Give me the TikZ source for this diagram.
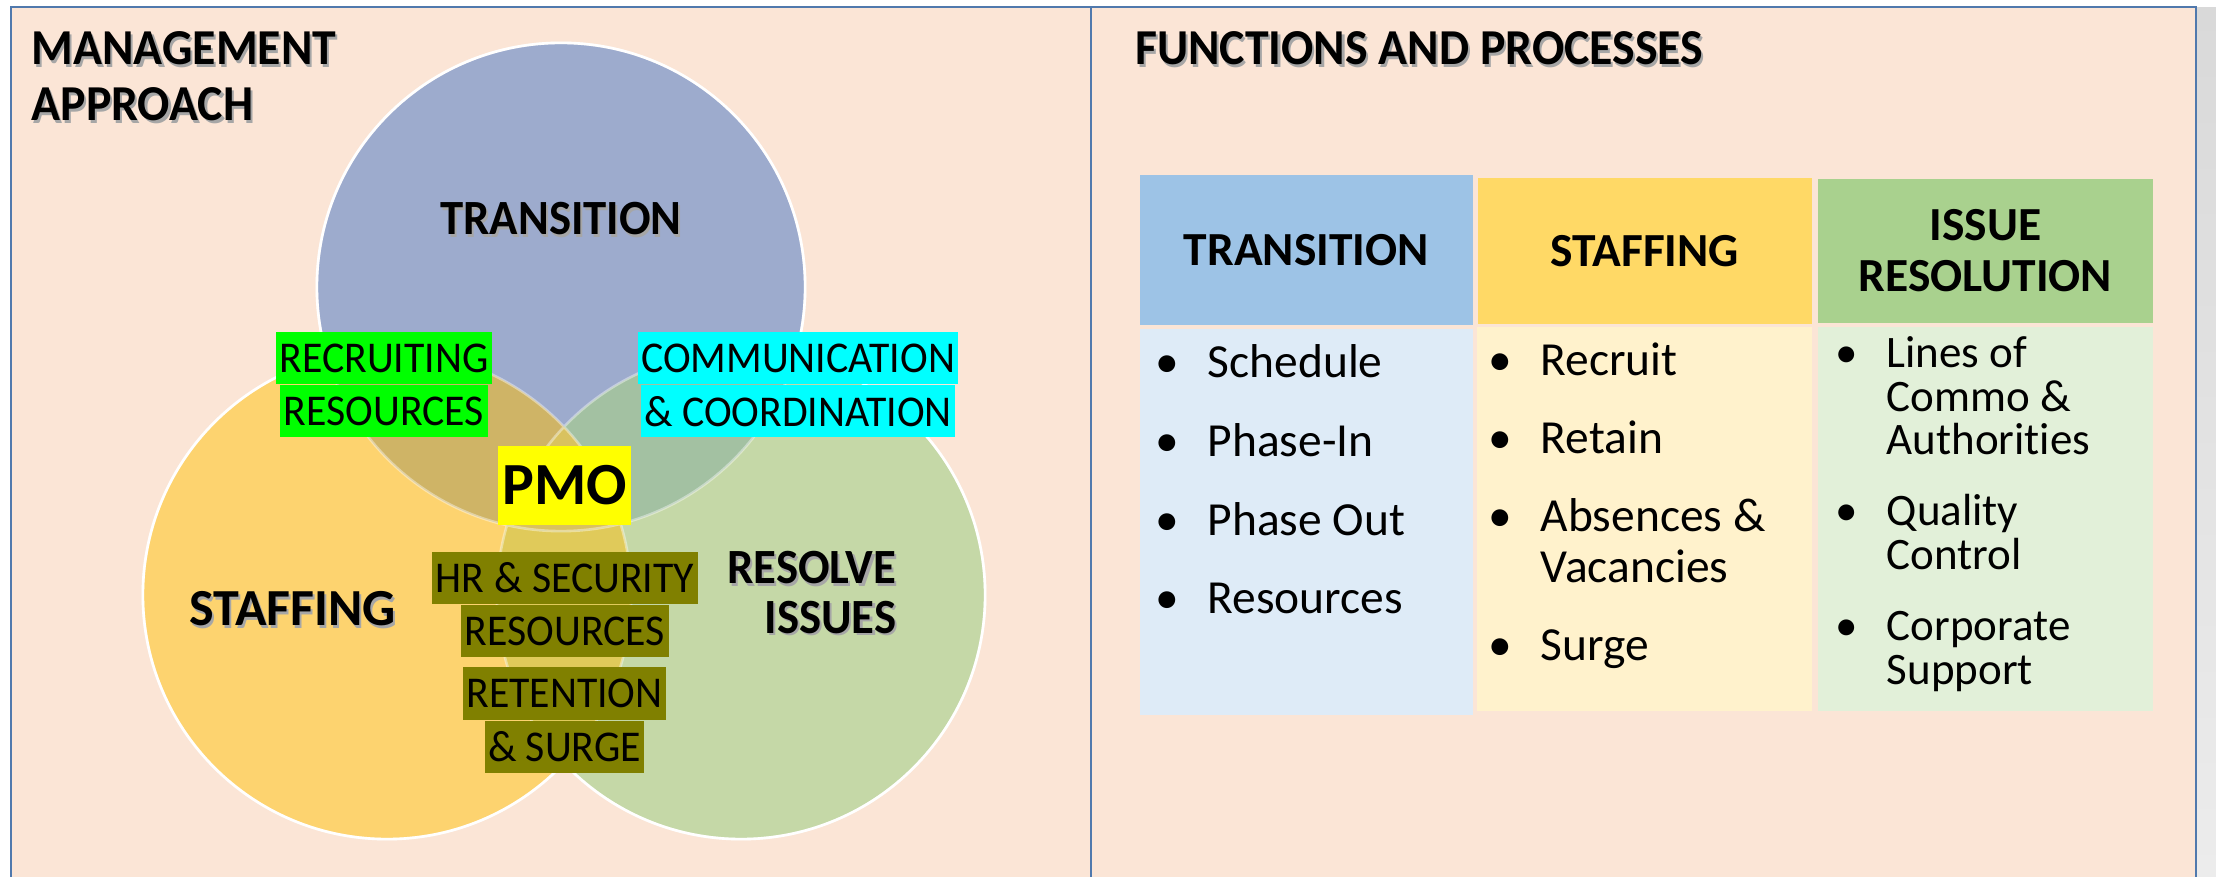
\documentclass[tikz,border=0pt]{standalone}
\usepackage{fontspec}
\setmainfont{Carlito}[Ligatures=NoCommon]
\newfontfamily\narrowfont{Carlito}[FakeStretch=0.95, Ligatures=NoCommon]
\usepackage{xcolor}
\usetikzlibrary{positioning}
\definecolor{panelc}{HTML}{FBE5D6}
\definecolor{framec}{HTML}{5079AD}
\definecolor{stripc}{HTML}{D9D9D9}
\definecolor{transc}{HTML}{9DABCD}
\definecolor{staffc}{HTML}{FDD36F}
\definecolor{resolvc}{HTML}{C5D8A7}
\definecolor{transstaffc}{HTML}{CFB466}
\definecolor{transresolvc}{HTML}{A3C1A2}
\definecolor{staffresolvc}{HTML}{E0CA5A}
\definecolor{centrec}{HTML}{D9C25F}
\definecolor{recruitc}{HTML}{00FF00}
\definecolor{commc}{HTML}{00FFFF}
\definecolor{pmoc}{HTML}{FFFF00}
\definecolor{hrc}{HTML}{808000}
\definecolor{transhead}{HTML}{9DC3E6}
\definecolor{transbody}{HTML}{DEEBF7}
\definecolor{staffhead}{HTML}{FFD966}
\definecolor{staffbody}{HTML}{FFF2CC}
\definecolor{issuehead}{HTML}{A9D18E}
\definecolor{issuebody}{HTML}{E2F0D9}
\newcommand\shadowed[1]{\leavevmode\rlap{\kern0.6pt\raisebox{-0.8pt}{\color{black!35}#1}}#1}
\newcommand\bul{\llap{\textbullet\hspace{0.29cm}}}
\tikzset{
  panel/.style={draw=framec, fill=panelc, line width=0.6pt},
  rim/.style={draw=white, line width=0.75pt},
  bigtitle/.style={font=\narrowfont\fontsize{14.3}{15.8}\selectfont\bfseries, inner sep=0pt, align=left},
  setlabel/.style={font=\narrowfont\fontsize{14}{14}\selectfont\bfseries, inner sep=0pt},
  hlbox/.style={font=\narrowfont\fontsize{12.5}{15}\selectfont, inner xsep=1pt, inner ysep=0pt,
    minimum height=0.52cm, text=black},
  headcell/.style={font=\fontsize{13.5}{14.5}\selectfont\bfseries, align=center,
    inner sep=0pt, anchor=north west},
  bodycell/.style={inner sep=0pt},
  bulletlist/.style={inner sep=0pt, align=left, anchor=north west},
}

\begin{document}
\begin{tikzpicture}[x=0.01cm, y=-0.01cm]
  \useasboundingbox (0,0) rectangle (2216,877);
  \fill[white] (0,0) rectangle (2216,877);
  \shade[top color=stripc, bottom color=stripc!50!white] (2197,8) rectangle (2216,877);
  % the two panels
  \draw[panel] (11,7) rectangle (1091,890);
  \draw[panel] (1091,7) rectangle (2196,890);

  % three sets
  \coordinate (tc) at (561,287);
  \coordinate (sc) at (387,595);
  \coordinate (rc) at (741,595);
  \fill[staffc] (sc) circle[radius=2.44cm];
  \fill[resolvc] (rc) circle[radius=2.44cm];
  \fill[transc] (tc) circle[radius=2.44cm];
  \begin{scope}
    \clip (sc) circle[radius=2.44cm];
    \fill[staffresolvc] (rc) circle[radius=2.44cm];
  \end{scope}
  \begin{scope}
    \clip (tc) circle[radius=2.44cm];
    \fill[transstaffc] (sc) circle[radius=2.44cm];
    \fill[transresolvc] (rc) circle[radius=2.44cm];
    \clip (sc) circle[radius=2.44cm];
    \fill[centrec] (rc) circle[radius=2.44cm];
  \end{scope}
  % rims: faint inside the overlaps, white outside
  \draw[rim, opacity=0.4] (sc) circle[radius=2.44cm] (rc) circle[radius=2.44cm]
    (tc) circle[radius=2.44cm];
  \begin{scope}[even odd rule]
    \clip (0,0) rectangle (2216,877) (tc) circle[radius=2.44cm];
    \clip (0,0) rectangle (2216,877) (rc) circle[radius=2.44cm];
    \draw[rim] (sc) circle[radius=2.44cm];
  \end{scope}
  \begin{scope}[even odd rule]
    \clip (0,0) rectangle (2216,877) (tc) circle[radius=2.44cm];
    \clip (0,0) rectangle (2216,877) (sc) circle[radius=2.44cm];
    \draw[rim] (rc) circle[radius=2.44cm];
  \end{scope}
  \begin{scope}[even odd rule]
    \clip (0,0) rectangle (2216,877) (sc) circle[radius=2.44cm];
    \clip (0,0) rectangle (2216,877) (rc) circle[radius=2.44cm];
    \draw[rim] (tc) circle[radius=2.44cm];
  \end{scope}

  \node[bigtitle, anchor=north west] (mgmt) at (31,31) {\shadowed{MANAGEMENT}\\\shadowed{APPROACH}};
  \node[setlabel] (transl) at (561,220) {\shadowed{TRANSITION}};
  \node[setlabel, font=\fontsize{14.8}{14.8}\selectfont\bfseries] (staffl) at (292.5,610) {\shadowed{STAFFING}};
  \node[setlabel, align=right, anchor=east] (resolvl) at (897,594) {\shadowed{RESOLVE}\\\shadowed{ISSUES}};

  % highlighted overlap labels
  \node[hlbox, fill=recruitc] (recruit) at (384,358) {RECRUITING};
  \node[hlbox, fill=recruitc, below=0pt of recruit] (recruitb) {RESOURCES};
  \node[hlbox, fill=commc] (comm) at (798,358) {COMMUNICATION};
  \node[hlbox, fill=commc, below=0pt of comm] (commb) {\& COORDINATION};
  \node[hlbox, fill=pmoc, font=\fontsize{17}{17}\selectfont\bfseries,
    minimum width=1.33cm, minimum height=0.79cm] (pmo) at (564.5,485.5) {PMO};
  \node[hlbox, fill=hrc] (hr) at (565,578) {HR \& SECURITY};
  \node[hlbox, fill=hrc, below=0pt of hr] (hrb) {RESOURCES};
  \node[hlbox, fill=hrc] (retain) at (564.5,693.5) {RETENTION};
  \node[hlbox, fill=hrc, below=0pt of retain] (retainb) {\& SURGE};

  % functions and processes
  \node[bigtitle, anchor=north west] (funcs) at (1134.5,31) {\shadowed{FUNCTIONS AND PROCESSES}};
  \node[headcell, fill=transhead, minimum width=3.33cm, minimum height=1.495cm] (transhd) at (1139,174.5) {TRANSITION};
  \node[headcell, fill=staffhead, minimum width=3.34cm, minimum height=1.46cm] (staffhd) at (1477,177) {STAFFING};
  \node[headcell, fill=issuehead, minimum width=3.35cm, minimum height=1.44cm] (issuehd) at (1817,178) {ISSUE\\RESOLUTION};
  \node[bodycell, fill=transbody, minimum width=3.33cm, minimum height=3.86cm, below=0.03cm of transhd] (transbd) {};
  \node[bodycell, fill=staffbody, minimum width=3.35cm, minimum height=3.84cm, below=0.02cm of staffhd] (staffbd) {};
  \node[bodycell, fill=issuebody, minimum width=3.35cm, minimum height=3.84cm, below=0.03cm of issuehd] (issuebd) {};
  \node[bulletlist, font=\fontsize{13.5}{22.4}\selectfont] (translist) at (1207,344)
    {\bul Schedule\\ \bul Phase-In\\ \bul Phase Out\\ \bul Resources};
  \node[bulletlist, font=\fontsize{13.5}{14.5}\selectfont] (stafflist) at (1540,342)
    {\bul Recruit\\[7.7pt] \bul Retain\\[7.7pt] \bul Absences \&\\ Vacancies\\[7.7pt] \bul Surge};
  \node[bulletlist, font=\fontsize{12.8}{12.4}\selectfont] (issuelist) at (1886,336)
    {\bul Lines of\\ Commo \&\\ Authorities\\[7.8pt] \bul Quality\\ Control\\[7.8pt] \bul Corporate\\ Support};
\end{tikzpicture}
\end{document}
